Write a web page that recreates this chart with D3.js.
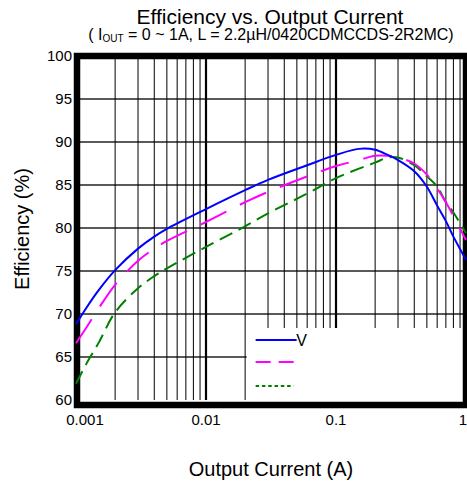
<!DOCTYPE html>
<html>
<head>
<meta charset="utf-8">
<script src="https://cdn.jsdelivr.net/npm/d3@7"></script>
<style>
  body { margin: 0; background: #fff; }
  svg { display: block; font-family: "Liberation Sans", Arial, sans-serif; }
</style>
</head>
<body>
<svg id="chart" width="467" height="484"></svg>
<script>
// output current (A)
var current = [0.001, 0.0012, 0.0015, 0.002, 0.003, 0.004, 0.005, 0.01, 0.02, 0.03, 0.06, 0.1, 0.15, 0.2, 0.25, 0.3, 0.4, 0.5, 0.6, 0.7, 0.8, 1];
// efficiency (%) per curve
var effBlue = [68.8, 70.7, 72.8, 75.1, 77.6, 79.0, 79.9, 82.2, 84.4, 85.6, 87.3, 88.5, 89.2, 89.1, 88.5, 87.9, 86.6, 84.8, 82.6, 80.8, 79.0, 76.3];
var effMagenta = [66.6, 68.4, 70.7, 73.4, 76.2, 77.6, 78.5, 80.7, 83.0, 84.2, 86.0, 87.2, 87.9, 88.4, 88.4, 88.2, 87.5, 86.2, 84.6, 83.0, 81.4, 78.6];
var effGreen = [61.9, 64.2, 66.7, 70.2, 73.0, 74.4, 75.3, 77.8, 80.2, 81.7, 84.0, 85.8, 86.9, 87.6, 88.2, 88.2, 87.3, 86.0, 84.8, 83.0, 81.8, 79.4];

var yTicks = [60, 65, 70, 75, 80, 85, 90, 95, 100];
var xTicks = [0.001, 0.01, 0.1, 1];
var xTickLabels = ["0.001", "0.01", "0.1", "1"];
var legendLabels = ["V", "", ""];

var svg = d3.select("#chart");

var x = d3.scaleLog().domain([0.001, 1]).range([76, 466]);
var y = d3.scaleLinear().domain([60, 100]).range([400, 56]);

// title
svg.append("text")
  .attr("x", 270).attr("y", 23.5)
  .attr("text-anchor", "middle")
  .style("font-size", "21px")
  .text("Efficiency vs. Output Current");

var sub = svg.append("text")
  .attr("x", 271).attr("y", 40)
  .attr("text-anchor", "middle")
  .style("font-size", "16px");
sub.append("tspan").text("( I");
sub.append("tspan").attr("dy", 2).style("font-size", "10px").text("OUT");
sub.append("tspan").attr("dy", -2).text(" = 0 ~ 1A, L = 2.2\u00b5H/0420CDMCCDS-2R2MC)");

// grid
var grid = svg.append("g");
yTicks.slice(1, -1).forEach(function (v) {
  grid.append("line")
    .attr("x1", x(0.001)).attr("x2", x(1))
    .attr("y1", y(v)).attr("y2", y(v))
    .style("stroke", "#222").style("stroke-width", 1.5);
});
for (var d = 0.001; d < 1; d *= 10) {
  for (var k = 1; k <= 9; k++) {
    var v = d * k;
    if (k == 1 && d == 0.001) continue;
    grid.append("line")
      .attr("x1", x(v)).attr("x2", x(v))
      .attr("y1", y(100)).attr("y2", y(60))
      .style("stroke", "#000")
      .style("stroke-width", k == 1 ? 2.2 : 1);
  }
}

// legend box (hides grid behind it)
var lg = svg.append("g");
var lx = x(0.02) + 1.5, ly = 328;
lg.append("rect")
  .attr("x", lx).attr("y", ly)
  .attr("width", x(1) - lx).attr("height", y(60) - ly + 2)
  .style("fill", "#fff");

// frame
svg.append("rect")
  .attr("x", x(0.001) + 1).attr("y", y(100))
  .attr("width", x(1) - x(0.001) - 1).attr("height", y(60) - y(100) + 5)
  .style("fill", "none")
  .style("stroke", "#000").style("stroke-width", 6.5);

// tick labels
yTicks.forEach(function (v) {
  svg.append("text")
    .attr("x", 72).attr("y", y(v))
    .attr("dy", "0.36em")
    .attr("text-anchor", "end")
    .style("font-size", "15px")
    .text(v);
});
xTicks.forEach(function (v, i) {
  var last = i == xTicks.length - 1;
  svg.append("text")
    .attr("x", x(v) + (i == 0 ? 9 : (last ? 1 : 0)))
    .attr("y", 425)
    .attr("text-anchor", last ? "end" : "middle")
    .style("font-size", "15px")
    .text(xTickLabels[i]);
});

// axis titles
svg.append("text")
  .attr("x", 271).attr("y", 476)
  .attr("text-anchor", "middle")
  .style("font-size", "20px")
  .text("Output Current (A)");
svg.append("text")
  .attr("transform", "translate(29," + 229 + ") rotate(-90)")
  .attr("text-anchor", "middle")
  .style("font-size", "20px")
  .text("Efficiency (%)");

// curves
var series = [
  { vals: effGreen, color: "#008000", dash: "14,7" },
  { vals: effMagenta, color: "#ff00ff", dash: "29,15" },
  { vals: effBlue, color: "#0000ff", dash: null }
];
var line = d3.line()
  .x(function (d) { return x(d[0]); })
  .y(function (d) { return y(d[1]); })
  .curve(d3.curveCatmullRom.alpha(0.5));

series.forEach(function (s) {
  svg.append("path")
    .datum(current.map(function (c, i) { return [c, s.vals[i]]; }))
    .attr("d", line)
    .style("fill", "none")
    .style("stroke", s.color)
    .style("stroke-width", 2)
    .style("stroke-dasharray", s.dash);
});

// legend entries
var legendItems = [
  { color: "#0000ff", dash: null, len: 41 },
  { color: "#ff00ff", dash: "15,8", len: 38 },
  { color: "#008000", dash: "3.5,2.8", len: 38 }
];
var rowY = [12, 34, 58];
legendItems.forEach(function (it, i) {
  lg.append("line")
    .attr("x1", lx + 9).attr("x2", lx + 9 + it.len)
    .attr("y1", ly + rowY[i]).attr("y2", ly + rowY[i])
    .style("stroke", it.color).style("stroke-width", 2)
    .style("stroke-dasharray", it.dash);
  lg.append("text")
    .attr("x", lx + 9 + it.len - 0.5).attr("y", ly + rowY[i])
    .attr("dy", "0.4em")
    .style("font-size", "16px")
    .text(legendLabels[i]);
});
</script>
</body>
</html>
